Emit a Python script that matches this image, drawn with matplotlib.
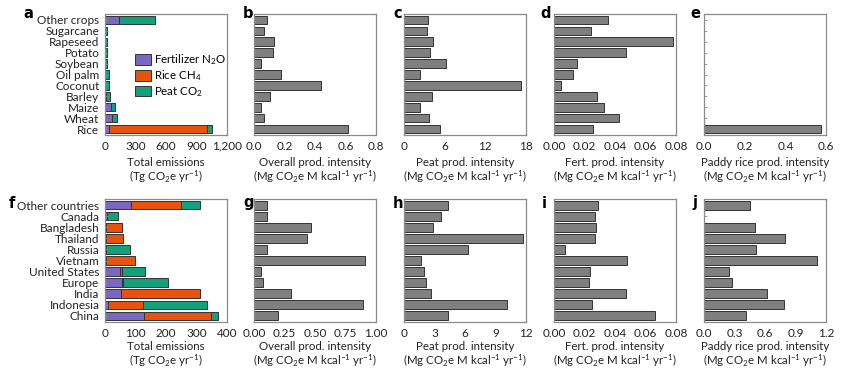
import matplotlib
matplotlib.use("Agg")
import matplotlib.pyplot as plt
import numpy as np

plt.rcParams['font.family'] = ['Lato', 'DejaVu Sans']
plt.rcParams['mathtext.fontset'] = 'custom'
plt.rcParams['mathtext.rm'] = 'Lato'
plt.rcParams['mathtext.it'] = 'Lato:italic'

# ---------------- data ----------------
crops = ["Rice", "Wheat", "Maize", "Barley", "Coconut", "Oil palm", "Soybean",
         "Potato", "Rapeseed", "Sugarcane", "Other crops"]
crop_n2o = [40, 73, 60, 8, 2, 2, 2, 2, 2, 2, 139]
crop_ch4 = [965, 0, 0, 0, 0, 0, 0, 0, 0, 0, 0]
crop_peat = [45, 47, 40, 38, 34, 34, 18, 18, 18, 18, 351]
crop_overall = [0.616, 0.067, 0.048, 0.108, 0.44, 0.18, 0.048, 0.123, 0.134, 0.063, 0.082]
crop_peat_int = [5.28, 3.7, 2.32, 4.2, 17.2, 2.32, 6.27, 3.85, 4.35, 3.36, 3.6]
crop_fert_int = [0.0254, 0.0424, 0.0327, 0.0283, 0.0049, 0.0124, 0.015, 0.0475, 0.0778, 0.0243, 0.0356]
crop_paddy_int = [0.575, 0, 0, 0, 0, 0, 0, 0, 0, 0, 0]

countries = ["China", "Indonesia", "India", "Europe", "United States", "Vietnam",
             "Russia", "Thailand", "Bangladesh", "Canada", "Other countries"]
ctry_n2o = [127, 11, 51, 56, 49, 4, 2, 4, 3, 7, 86]
ctry_ch4 = [220, 112, 259, 4, 7, 94, 0, 56, 52, 0, 164]
ctry_peat = [25, 211, 0, 147, 74, 0, 79, 0, 0, 35, 60]
ctry_overall = [0.198, 0.89, 0.30, 0.073, 0.06, 0.913, 0.103, 0.432, 0.465, 0.103, 0.103]
ctry_peat_int = [4.37, 10.1, 2.7, 2.13, 2.0, 1.7, 6.3, 11.73, 2.9, 3.63, 4.37]
ctry_fert_int = [0.0662, 0.0248, 0.047, 0.0231, 0.0237, 0.0479, 0.007, 0.0272, 0.0277, 0.0266, 0.0286]
ctry_paddy_int = [0.41, 0.785, 0.62, 0.28, 0.242, 1.115, 0.507, 0.80, 0.504, 0, 0.448]

top_ticks = [[0, 300, 600, 900, 1200], [0.0, 0.2, 0.4, 0.6, 0.8], [0, 6, 12, 18],
             [0.00, 0.02, 0.04, 0.06, 0.08], [0.0, 0.2, 0.4, 0.6]]
top_ticklabels = [["0", "300", "600", "900", "1,200"], ["0.0", "0.2", "0.4", "0.6", "0.8"],
                  ["0", "6", "12", "18"], ["0.00", "0.02", "0.04", "0.06", "0.08"],
                  ["0.0", "0.2", "0.4", "0.6"]]
bot_ticks = [[0, 100, 200, 300, 400], [0.0, 0.25, 0.5, 0.75, 1.0], [0, 3, 6, 9, 12],
             [0.00, 0.02, 0.04, 0.06, 0.08], [0.0, 0.3, 0.6, 0.9, 1.2]]
bot_ticklabels = [["0", "100", "200", "300", "400"], ["0.00", "0.25", "0.50", "0.75", "1.00"],
                  ["0", "3", "6", "9", "12"], ["0.00", "0.02", "0.04", "0.06", "0.08"],
                  ["0.0", "0.3", "0.6", "0.9", "1.2"]]

xlabel_line1 = ["Total emissions", "Overall prod. intensity", "Peat prod. intensity",
                "Fert. prod. intensity", "Paddy rice prod. intensity"]
unit_tg = "(Tg CO$_2$e yr$^{-1}$)"
unit_mg = "(Mg CO$_2$e M kcal$^{-1}$ yr$^{-1}$)"
xlabel_line2 = [unit_tg, unit_mg, unit_mg, unit_mg, unit_mg]

C_N2O = "#7a67c4"
C_CH4 = "#e8520c"
C_PEAT = "#13a17b"
C_GREY = "#7f7f7f"
SPINE = "#8a8a8a"
TXT = "#222222"

W, H = 842, 373
fig = plt.figure(figsize=(W / 100, H / 100), dpi=100)

lefts = [105, 254, 404, 554, 704]
axw = 122
rows = [(14, 135), (199, 322)]
FS = 8.5
LFS = 8.3


def make_ax(x0, ytop, ybot):
    return fig.add_axes([x0 / W, 1 - ybot / H, axw / W, (ybot - ytop) / H])


def style(ax, ticks, labels, show_y, cats):
    ax.set_xlim(ticks[0], ticks[-1])
    ax.set_ylim(-0.55, len(cats) - 0.45)
    ax.set_xticks(ticks)
    ax.set_xticklabels(labels)
    ax.set_yticks(np.arange(len(cats)))
    if show_y:
        ax.set_yticklabels(cats)
    else:
        ax.set_yticklabels([])
    ax.tick_params(axis='x', length=0, labelsize=FS, pad=4, colors=TXT)
    ax.tick_params(axis='y', direction='in', length=2, width=0.6, colors=SPINE,
                   labelsize=FS, pad=4, labelcolor=TXT)
    for s in ax.spines.values():
        s.set_color(SPINE)
        s.set_linewidth(0.9)


def stacked(ax, cats, n2o, ch4, peat):
    y = np.arange(len(cats))
    kw = dict(height=0.78, edgecolor='#333333', linewidth=0.7)
    ax.barh(y, n2o, color=C_N2O, label="Fertilizer N$_2$O", **kw)
    ax.barh(y, ch4, left=n2o, color=C_CH4, label="Rice CH$_4$", **kw)
    ax.barh(y, peat, left=np.array(n2o) + np.array(ch4), color=C_PEAT,
            label="Peat CO$_2$", **kw)


def grey(ax, cats, vals):
    y = np.arange(len(cats))
    v = np.array(vals, dtype=float)
    mask = v > 0
    ax.barh(y[mask], v[mask], height=0.8, color=C_GREY, edgecolor='#333333', linewidth=0.7)


top_vals = [None, crop_overall, crop_peat_int, crop_fert_int, crop_paddy_int]
bot_vals = [None, ctry_overall, ctry_peat_int, ctry_fert_int, ctry_paddy_int]

top_letters = [("a", 23, 13), ("b", 243, 13), ("c", 393, 13), ("d", 540, 13), ("e", 690, 13)]
bot_letters = [("f", 9, 204), ("g", 243, 203), ("h", 393, 203), ("i", 542, 203), ("j", 692, 203)]
label_y = [(162, 177), (347, 361)]

for r, (cats, n2o, ch4, peat, vals, ticks, tlabels, letters) in enumerate([
        (crops, crop_n2o, crop_ch4, crop_peat, top_vals, top_ticks, top_ticklabels, top_letters),
        (countries, ctry_n2o, ctry_ch4, ctry_peat, bot_vals, bot_ticks, bot_ticklabels, bot_letters)]):
    ytop, ybot = rows[r]
    for i in range(5):
        ax = make_ax(lefts[i], ytop, ybot)
        if i == 0:
            stacked(ax, cats, n2o, ch4, peat)
        else:
            grey(ax, cats, vals[i])
        style(ax, ticks[i], tlabels[i], i == 0, cats)
        if r == 0 and i == 0:
            ax.legend(loc='upper left', bbox_to_anchor=(0.21, 0.72), frameon=False,
                      fontsize=LFS, handlelength=1.35, handleheight=1.05,
                      handletextpad=0.3, labelspacing=0.12, borderaxespad=0)
        cx = (lefts[i] + axw / 2) / W
        fig.text(cx, 1 - label_y[r][0] / H, xlabel_line1[i], fontsize=LFS,
                 ha='center', va='center', color=TXT)
        fig.text(cx, 1 - label_y[r][1] / H, xlabel_line2[i], fontsize=LFS,
                 ha='center', va='center', color=TXT)
        lt, lx, ly = letters[i]
        fig.text(lx / W, 1 - ly / H, lt, fontsize=10.5, fontweight='bold',
                 ha='left', va='center', family='DejaVu Sans')

fig.savefig("out.png", dpi=100)
